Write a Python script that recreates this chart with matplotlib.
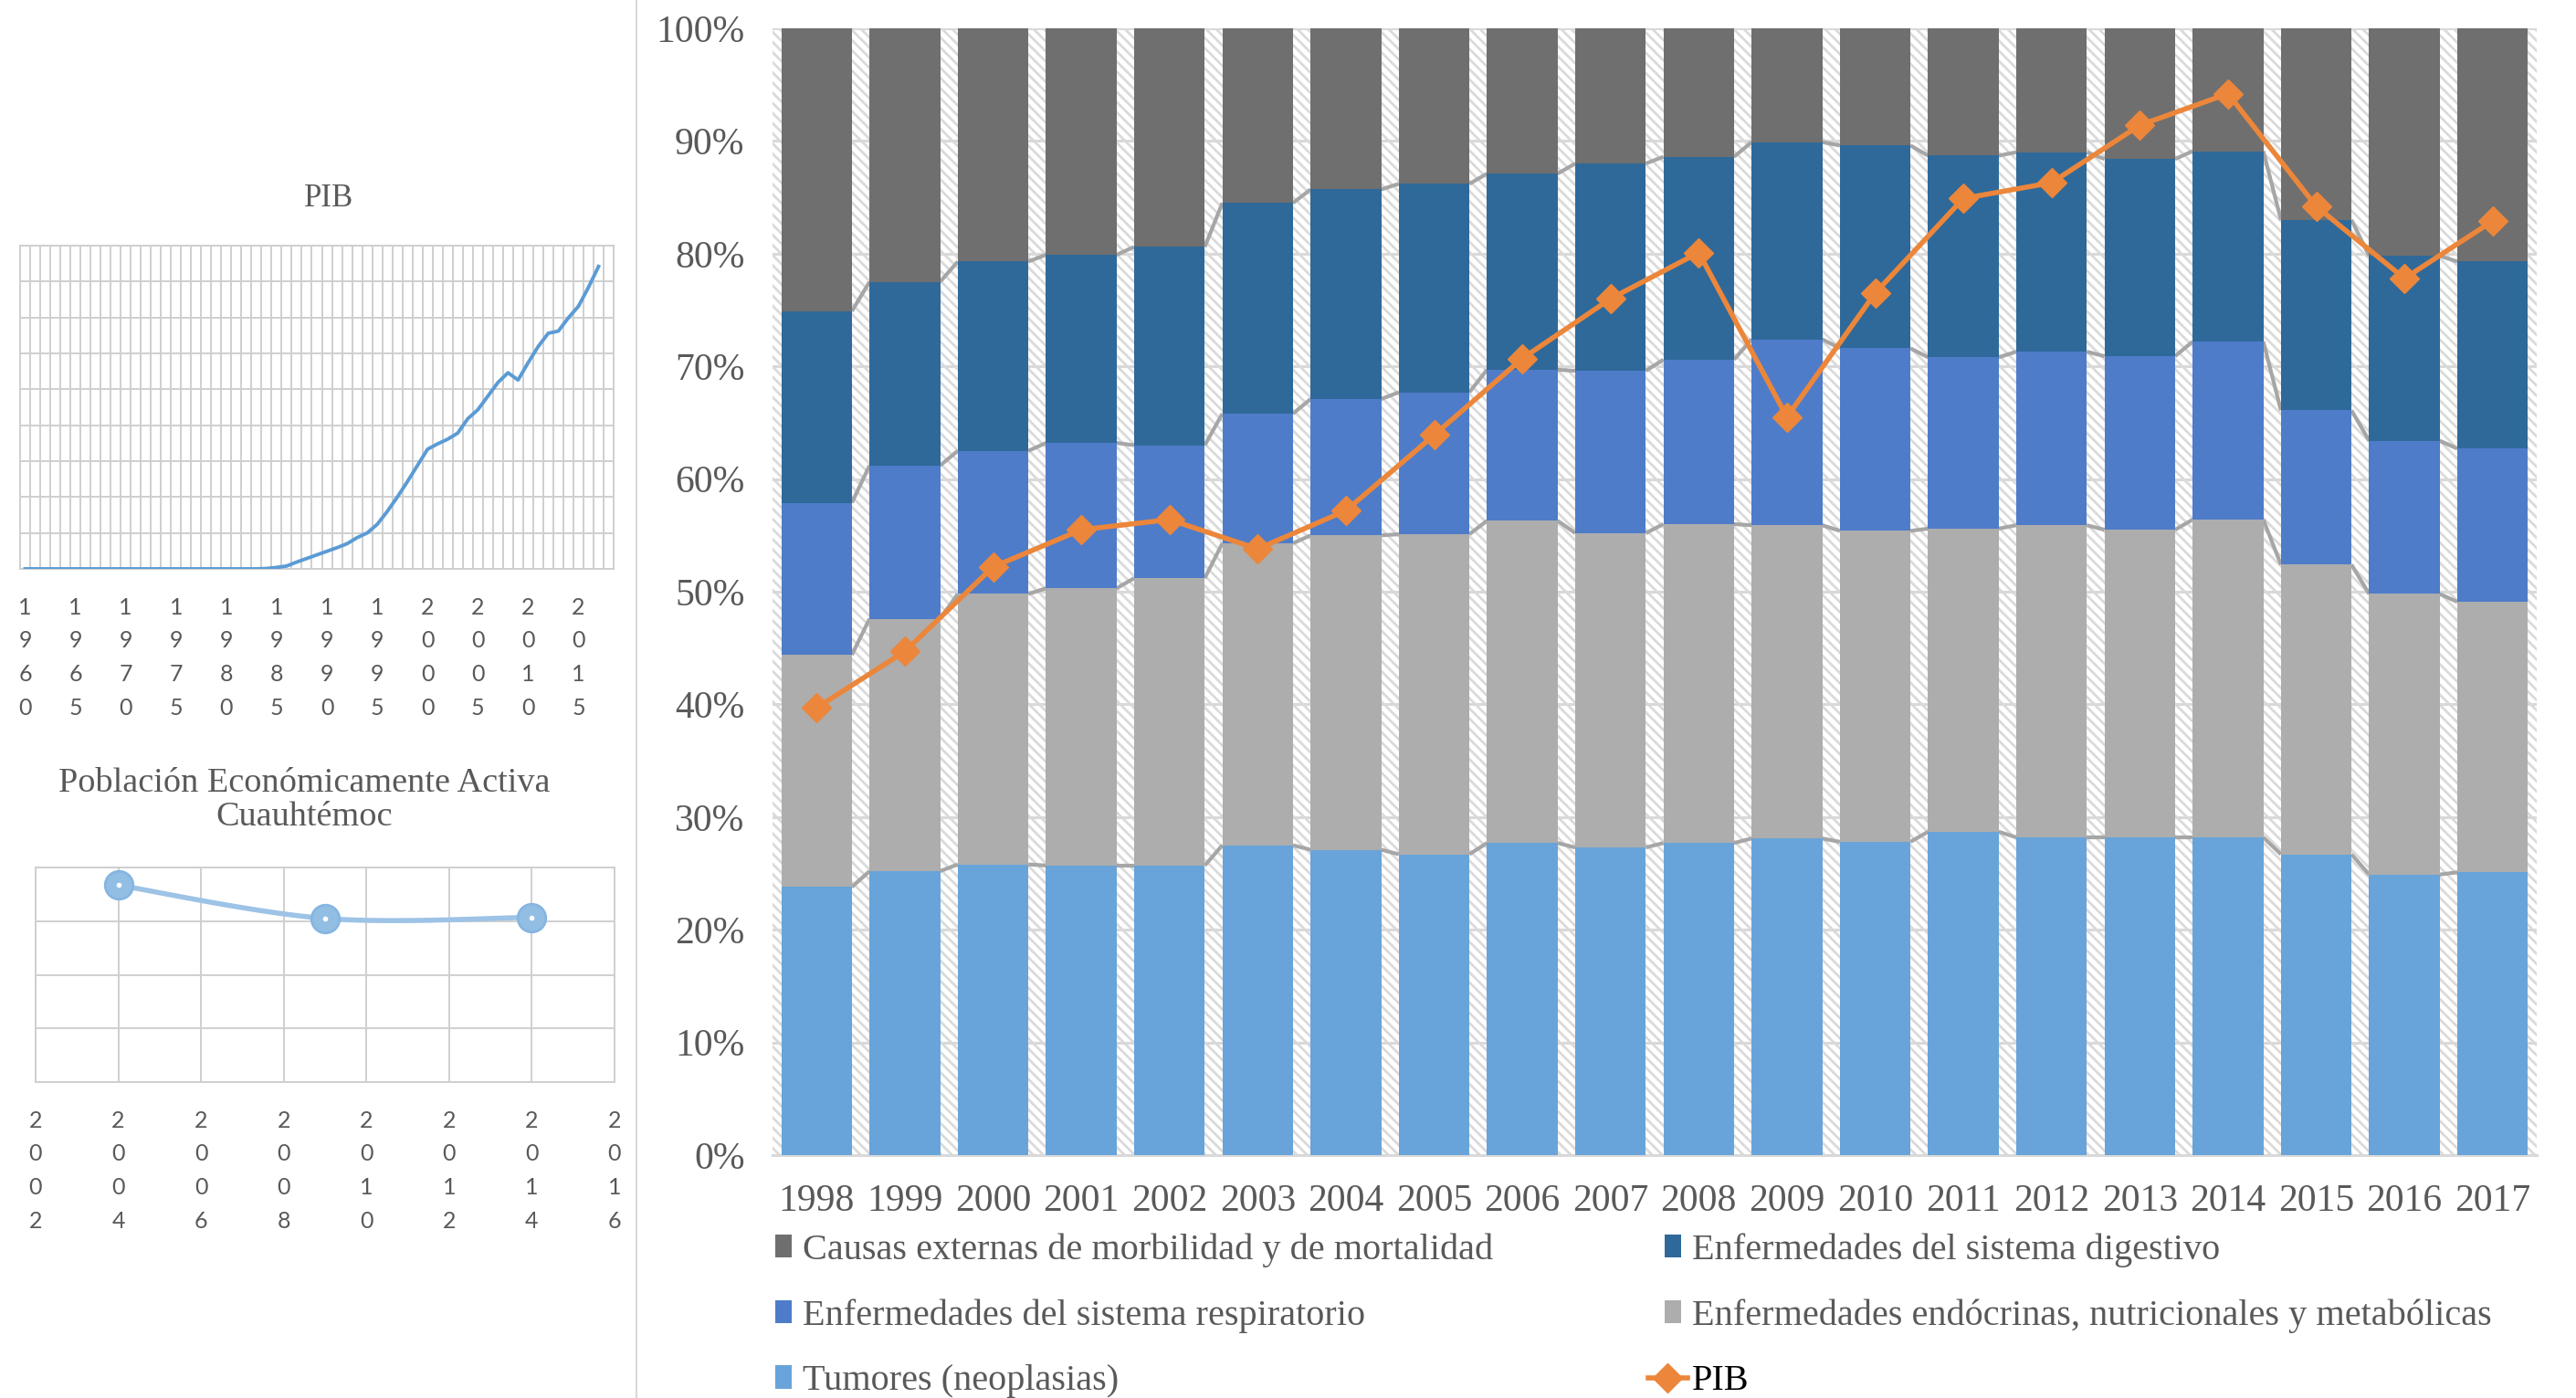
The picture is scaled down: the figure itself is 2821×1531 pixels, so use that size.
import numpy as np
import matplotlib.pyplot as plt
from matplotlib.patches import Patch, Rectangle
from matplotlib.lines import Line2D
from matplotlib.legend_handler import HandlerLine2D

# --- main chart data (share of deaths, %) ---
years = [str(y) for y in range(1998, 2018)]
tumores = [23.8, 25.2, 25.8, 25.7, 25.7, 27.5, 27.1, 26.7, 27.7, 27.3,
           27.7, 28.1, 27.8, 28.7, 28.2, 28.2, 28.2, 26.7, 24.9, 25.1]
endocrinas = [20.6, 22.4, 24.0, 24.6, 25.5, 26.8, 27.9, 28.4, 28.6, 27.9,
              28.3, 27.8, 27.6, 26.9, 27.7, 27.3, 28.2, 25.7, 24.9, 24.0]
respiratorio = [13.5, 13.6, 12.7, 12.9, 11.8, 11.5, 12.1, 12.6, 13.4, 14.4,
                14.6, 16.5, 16.2, 15.2, 15.4, 15.4, 15.8, 13.7, 13.6, 13.6]
digestivo = [17.0, 16.3, 16.8, 16.7, 17.6, 18.7, 18.6, 18.5, 17.4, 18.4,
             18.0, 17.5, 18.0, 17.9, 17.7, 17.5, 16.9, 16.9, 16.4, 16.6]
externas = [25.1, 22.5, 20.7, 20.1, 19.4, 15.5, 14.3, 13.8, 12.9, 12.0,
            11.4, 10.1, 10.4, 11.3, 11.0, 11.6, 10.9, 17.0, 20.2, 20.7]
pib_share = [39.7, 44.7, 52.2, 55.5, 56.4, 53.8, 57.2, 63.9, 70.7, 76.0,
             80.1, 65.5, 76.5, 84.9, 86.3, 91.4, 94.2, 84.2, 77.8, 82.9]

# --- small PIB chart (1960-2018 categories, values through 2017) ---
pib_cats = list(range(1960, 2019))
pib_values = [0, 0, 0, 0, 0, 0, 0, 0, 0, 0, 0, 0, 0, 0, 0, 0, 0, 0, 0, 0, 0, 0, 0, 0,
              0.01, 0.04, 0.08, 0.19, 0.29, 0.39, 0.49, 0.59, 0.70, 0.87, 1.00, 1.24,
              1.60, 2.00, 2.43, 2.88, 3.33, 3.48, 3.61, 3.78, 4.18, 4.43, 4.81, 5.19,
              5.46, 5.26, 5.74, 6.19, 6.56, 6.62, 6.99, 7.31, 7.84, 8.42]

# --- small PEA chart ---
pea_years = [2004, 2009, 2014]
pea_values = [3.67, 3.05, 3.07]

names = ['Tumores (neoplasias)',
         'Enfermedades endócrinas, nutricionales y metabólicas',
         'Enfermedades del sistema respiratorio',
         'Enfermedades del sistema digestivo',
         'Causas externas de morbilidad y de mortalidad']
colors = ['#68A4D9', '#ADADAD', '#4E7CC9', '#2F6999', '#6F6F6F']
orange = '#EC863A'
txt_gray = '#595959'

plt.rcParams['font.family'] = ['Liberation Serif', 'DejaVu Serif']
plt.rcParams['hatch.color'] = '#DADADA'
plt.rcParams['hatch.linewidth'] = 2.0

W, H = 2821, 1531
fig = plt.figure(figsize=(W / 100, H / 100), dpi=100)


def smooth(xs, ys, n=60):
    # Catmull-Rom curve through the points (Excel smoothed line look)
    pts = np.column_stack([xs, ys]).astype(float)
    P = np.vstack([pts[0], pts, pts[-1]])
    out = []
    t = np.linspace(0, 1, n)[:, None]
    for i in range(1, len(P) - 2):
        p0, p1, p2, p3 = P[i - 1], P[i], P[i + 1], P[i + 2]
        seg = 0.5 * (2 * p1 + (-p0 + p2) * t + (2 * p0 - 5 * p1 + 4 * p2 - p3) * t ** 2
                     + (-p0 + 3 * p1 - 3 * p2 + p3) * t ** 3)
        out.append(seg)
    return np.vstack(out)


def digit_stack(v):
    return '\n'.join(str(v))


class WideLineHandler(HandlerLine2D):
    # legend handle for the PIB line: longer than the square patches
    def create_artists(self, legend, orig_handle, xdescent, ydescent, width, height,
                       fontsize, trans):
        return super().create_artists(legend, orig_handle, xdescent + 1.0 * width, ydescent,
                                      2.4 * width, height, fontsize, trans)


# ================= main stacked chart =================
ax = fig.add_axes([846 / W, 1 - 1265 / H, 1932 / W, 1234 / H])
ax.add_patch(Rectangle((0, 0), 1, 1, transform=ax.transAxes, facecolor='white',
                       edgecolor='#DADADA', hatch='\\\\\\', lw=0, zorder=0))
x = np.arange(len(years))
data = np.array([tumores, endocrinas, respiratorio, digestivo, externas])
data = data / data.sum(axis=0) * 100
w = 0.8
bottom = np.zeros(len(years))
for k, (vals, col, name) in enumerate(zip(data, colors, names)):
    ax.bar(x, vals, w, bottom=bottom, color=col, zorder=3, label=name)
    top = bottom + vals
    if k < len(data) - 1:
        for i in range(len(x) - 1):
            ax.plot([x[i] + w / 2, x[i + 1] - w / 2], [top[i], top[i + 1]],
                    color='#A6A6A6', lw=3.0, zorder=2.5, solid_capstyle='butt')
    bottom = top

pib_line, = ax.plot(x, pib_share, color=orange, lw=4.0, marker='D', ms=16,
                    zorder=5, label='PIB')

ax.set_xlim(-0.5, len(years) - 0.5)
ax.set_ylim(0, 100)
ax.set_yticks(np.arange(0, 101, 10))
ax.set_yticklabels([f'{v}%' for v in range(0, 101, 10)])
ax.set_xticks(x)
ax.set_xticklabels(years)
ax.tick_params(axis='both', length=0, labelsize=30, colors=txt_gray)
ax.tick_params(axis='y', pad=22)
ax.tick_params(axis='x', pad=23)
ax.yaxis.grid(True, color='#D9D9D9', lw=2.2)
ax.set_axisbelow(True)
for s in ['top', 'left', 'right']:
    ax.spines[s].set_visible(False)
ax.spines['bottom'].set_color('#D9D9D9')
ax.spines['bottom'].set_linewidth(2.2)

order = [4, 2, 0, 3, 1]
handles = [Patch(facecolor=colors[i]) for i in order] + [pib_line]
labels = [names[i] for i in order] + ['PIB']
leg = fig.legend(handles, labels, loc='upper left', bbox_to_anchor=(849 / W, 1 - 1350 / H),
                 ncol=2, frameon=False, fontsize=29, handlelength=0.45, handleheight=0.6,
                 handletextpad=0.3, columnspacing=4.65, labelspacing=0.86,
                 borderpad=0, borderaxespad=0,
                 handler_map={pib_line: WideLineHandler(numpoints=1)})
for t, lab in zip(leg.get_texts(), labels):
    t.set_color('black' if lab == 'PIB' else txt_gray)

# ================= PIB small chart =================
ax1 = fig.add_axes([22 / W, 1 - 623 / H, 650 / W, 354 / H])
xc = np.arange(len(pib_cats))
ax1.plot(np.arange(len(pib_values)), pib_values, color='#5B9BD5', lw=2.8, zorder=3)
ax1.set_xlim(-0.5, len(pib_cats) - 0.5)
ax1.set_ylim(0, 9)
ax1.set_xticks(xc[::5])
ax1.set_xticklabels([digit_stack(c) for c in pib_cats[::5]], family='Lato',
                    fontsize=18, color=txt_gray, linespacing=1.73)
ax1.set_xticks(np.arange(-0.5, len(pib_cats), 1), minor=True)
ax1.set_yticks(np.arange(0, 10))
ax1.set_yticklabels([])
ax1.grid(which='minor', axis='x', color='#CFCFCF', lw=1.4)
ax1.grid(which='major', axis='y', color='#CFCFCF', lw=1.4)
ax1.tick_params(which='both', length=0, pad=22)
for s in ax1.spines.values():
    s.set_color('#CFCFCF')
    s.set_linewidth(1.4)
fig.text(360 / W, 1 - 217 / H, 'PIB', ha='center', va='center', fontsize=25, color=txt_gray)

# ================= PEA small chart =================
ax2 = fig.add_axes([39 / W, 1 - 1185 / H, 634 / W, 235 / H])
curve = smooth(pea_years, pea_values)
ax2.plot(curve[:, 0], curve[:, 1], color='#9DC3E6', lw=4.0, zorder=3)
ax2.plot(pea_years, pea_values, 'o', ms=22, mfc='#93BEE4', mec='#86B5E0', mew=2, zorder=4)
ax2.plot(pea_years, pea_values, 'o', ms=3, mfc='white', mec='white', zorder=5)
ax2.set_xlim(2002, 2016)
ax2.set_ylim(0, 4)
ax2.set_xticks(np.arange(2002, 2017, 2))
ax2.set_xticklabels([digit_stack(v) for v in range(2002, 2017, 2)], family='Lato',
                    fontsize=18, color=txt_gray, linespacing=1.73)
ax2.set_yticks(np.arange(0, 5))
ax2.set_yticklabels([])
ax2.grid(True, color='#CFCFCF', lw=1.4)
ax2.tick_params(which='both', length=0, pad=22)
for s in ax2.spines.values():
    s.set_color('#CFCFCF')
    s.set_linewidth(1.4)
fig.text(333 / W, 1 - 876 / H, 'Población Económicamente Activa\nCuauhtémoc',
         ha='center', va='center', fontsize=27.5, color=txt_gray, linespacing=1.1)

# separator between panels
fig.add_artist(Line2D([697 / W, 697 / W], [0, 1], color='#D9D9D9', lw=1.5))

fig.savefig('out.png', dpi=100)
